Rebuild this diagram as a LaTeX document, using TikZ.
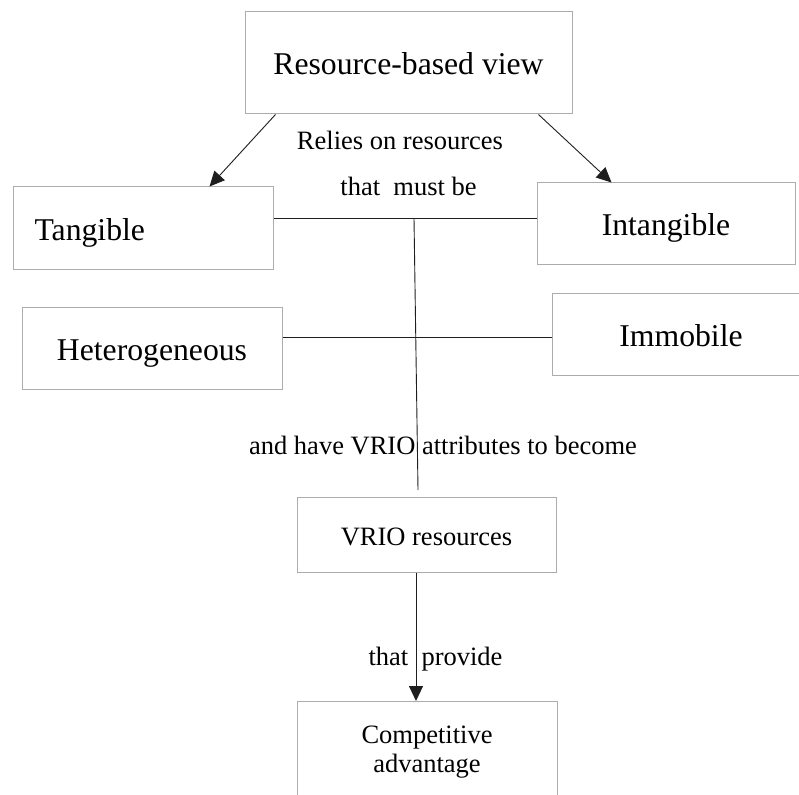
\documentclass[tikz,border=0pt]{standalone}
\usepackage{fontspec}
\setmainfont{Liberation Serif}
\usetikzlibrary{arrows.meta}
\definecolor{framegray}{RGB}{172,172,172}
\definecolor{linedark}{RGB}{30,30,30}
\begin{document}
\begin{tikzpicture}[x=1pt,y=-1pt,
  box/.style={draw=framegray, line width=1pt, inner sep=0pt},
  bigtext/.style={font=\fontsize{31.7}{38}\selectfont, text height=24pt, text depth=0pt},
  smalltext/.style={font=\fontsize{26.5}{29}\selectfont},
  link/.style={draw=linedark, line width=0.9pt},
  arr/.style={link, -{Triangle[length=15pt,width=14pt]}},
  lbl/.style={smalltext, anchor=base, inner sep=0pt}
]
\useasboundingbox (0,0) rectangle (799,794);

% boxes
\node[box, bigtext, minimum width=327pt, minimum height=102pt] (rbv) at (408.5,63) {Resource-based view};
\node[box, bigtext, minimum width=260pt, minimum height=82pt, text width=217pt, align=left, inner xsep=21.5pt] (tang) at (143,228) {Tangible};
\node[box, bigtext, minimum width=258pt, minimum height=81pt] (int) at (666,223.5) {Intangible};
\node[box, bigtext, minimum width=260pt, minimum height=82pt] (het) at (152,348) {Heterogeneous};
\node[box, bigtext, minimum width=258pt, minimum height=82pt] (imm) at (681,334) {Immobile};
\node[box, smalltext, text height=22pt, text depth=0pt, minimum width=259pt, minimum height=75pt] (vrio) at (426.5,534.5) {VRIO resources};
\node[box, smalltext, align=center, minimum width=260pt, minimum height=102pt, anchor=north] (comp) at (427,701) {Competitive\\advantage};

% connector labels
\node[lbl] (relies) at (400,150) {Relies on resources};
\node[lbl] (mustbe) at (408.5,195.5) {that\ \ must be};
\node[lbl] (vrioattr) at (443,454) {and have VRIO attributes to become};
\node[lbl] (provide) at (435.5,665) {that\ \ provide};

% junctions of the connecting lines
\coordinate (tj) at (414,218.5);
\coordinate (hj) at (415.5,337);
\coordinate (vend) at (418,490);

% connectors
\draw[arr] ([xshift=31pt]rbv.south west) -- ([xshift=-64pt]tang.north east);
\draw[arr] ([xshift=-34pt]rbv.south east) -- ([xshift=-184pt]int.north east);
\draw[link] (tang.east |- tj) -- (int.west |- tj);
\draw[link] (het.east |- hj) -- (imm.west |- hj);
\draw[link] (tj) -- (vend);
\draw[arr] ([xshift=-10.5pt]vrio.south) -- ([xshift=-11pt]comp.north);
\end{tikzpicture}
\end{document}
